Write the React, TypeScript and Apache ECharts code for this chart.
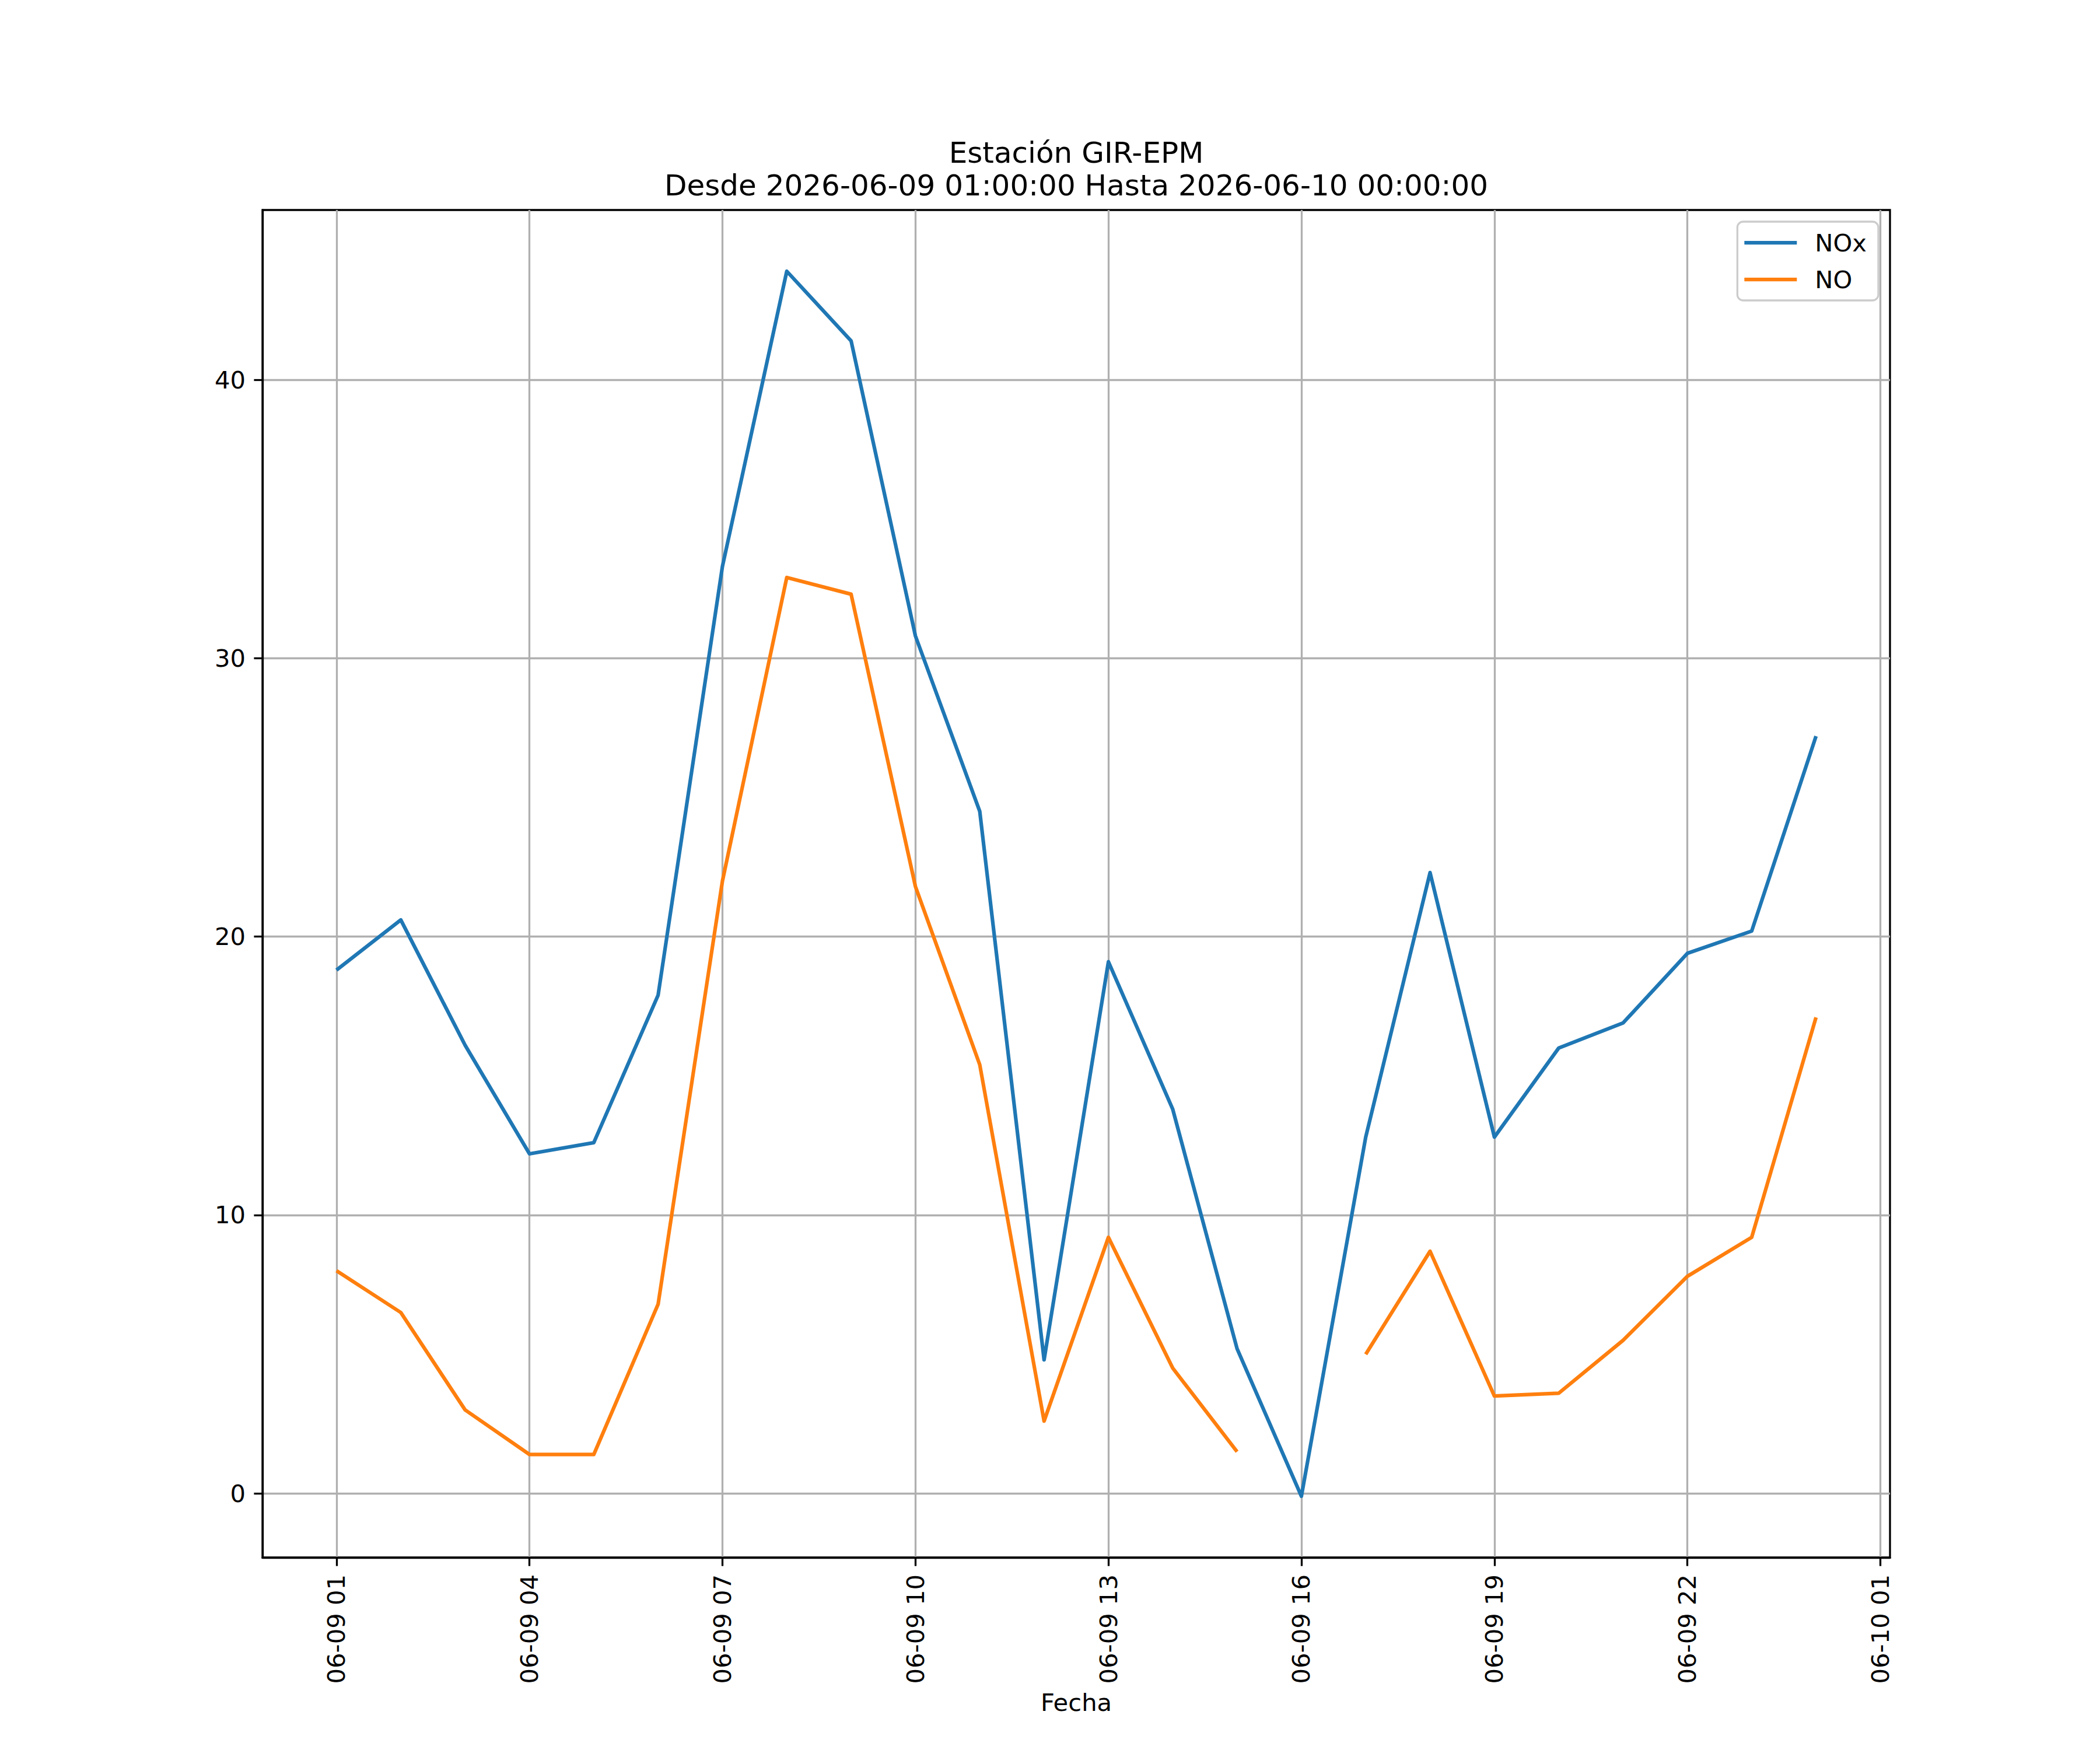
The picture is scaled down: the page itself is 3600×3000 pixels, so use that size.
import React, { useEffect, useRef } from "react";
import * as echarts from "echarts";

// Hours after 2026-06-09 00:00 (01:00 ... 24:00 = 06-10 00:00)
const hours = [1, 2, 3, 4, 5, 6, 7, 8, 9, 10, 11, 12, 13, 14, 15, 16, 17, 18, 19, 20, 21, 22, 23, 24];
const noxValues = [18.8, 20.6, 16.1, 12.2, 12.6, 17.9, 33.3, 43.9, 41.4, 30.8, 24.5, 4.8, 19.1, 13.8, 5.2, -0.1, 12.8, 22.3, 12.8, 16.0, 16.9, 19.4, 20.2, 27.2];
const noValues: (number | null)[] = [8.0, 6.5, 3.0, 1.4, 1.4, 6.8, 22.0, 32.9, 32.3, 21.8, 15.4, 2.6, 9.2, 4.5, 1.5, null, 5.0, 8.7, 3.5, 3.6, 5.5, 7.8, 9.2, 17.1];
const seriesNames = ["NOx", "NO"];
const xTickHours = [1, 4, 7, 10, 13, 16, 19, 22, 25];
const xTickLabels = ["06-09 01", "06-09 04", "06-09 07", "06-09 10", "06-09 13", "06-09 16", "06-09 19", "06-09 22", "06-10 01"];
const yTickValues = [0, 10, 20, 30, 40];
const titleLine1 = "Estación GIR-EPM";
const titleLine2 = "Desde 2026-06-09 01:00:00 Hasta 2026-06-10 00:00:00";
const xAxisTitle = "Fecha";

const FONT = "DejaVu Sans";
const W = 3600;
const H = 3000;
const GRID_L = 450;
const GRID_R = 3240;
const GRID_T = 360;
const GRID_B = 2670;

export default function App() {
  const ref = useRef<HTMLDivElement>(null);
  useEffect(() => {
    document.body.style.margin = "0";
    if (!ref.current) return;
    const chart = echarts.init(ref.current, null, { renderer: "svg" });

    const xMinD = Math.min(...hours);
    const xMaxD = Math.max(...hours);
    const xPad = (xMaxD - xMinD) * 0.05;
    const allY = [...noxValues, ...noValues.filter((v) => v !== null)] as number[];
    const yMinD = Math.min(...allY);
    const yMaxD = Math.max(...allY);
    const yPad = (yMaxD - yMinD) * 0.05;

    const mk = (vals: (number | null)[]) => hours.map((h, i) => [h, vals[i] === null ? "-" : vals[i]]);

    const axisCommon = {
      axisLine: { show: true, onZero: false, lineStyle: { color: "#000", width: 3.3 } },
      axisTick: { show: true, inside: false, length: 14.6, lineStyle: { color: "#000", width: 3.3 } },
      splitLine: { show: true, lineStyle: { color: "#b0b0b0", width: 3.3 } },
    };

    chart.setOption({
      animation: false,
      backgroundColor: "#ffffff",
      grid: {
        left: GRID_L,
        right: W - GRID_R,
        top: GRID_T,
        bottom: H - GRID_B,
        show: true,
        borderColor: "#000",
        borderWidth: 3.3,
        backgroundColor: "transparent",
      },
      xAxis: {
        type: "value",
        min: xMinD - xPad,
        max: xMaxD + xPad,
        ...axisCommon,
        axisTick: { ...axisCommon.axisTick, customValues: xTickHours },
        axisLabel: {
          customValues: xTickHours,
          rotate: 90,
          margin: 29,
          fontFamily: FONT,
          fontSize: 41.7,
          color: "#000",
          formatter: (v: number) => {
            const idx = xTickHours.indexOf(Math.round(v));
            return idx >= 0 ? xTickLabels[idx] : "";
          },
        },
      },
      yAxis: {
        type: "value",
        min: yMinD - yPad,
        max: yMaxD + yPad,
        ...axisCommon,
        axisTick: { ...axisCommon.axisTick, customValues: yTickValues },
        axisLabel: {
          customValues: yTickValues,
          margin: 29,
          fontFamily: FONT,
          fontSize: 41.7,
          color: "#000",
          formatter: (v: number) => String(Math.round(v)),
        },
      },
      legend: {
        data: seriesNames,
        orient: "vertical",
        right: W - 3220,
        top: 380,
        padding: [15, 20, 15, 12],
        itemGap: 21,
        itemWidth: 90,
        itemHeight: 6.25,
        icon: "rect",
        backgroundColor: "rgba(255,255,255,0.8)",
        borderColor: "#cccccc",
        borderWidth: 3.3,
        borderRadius: 10,
        textStyle: {
          fontFamily: FONT,
          fontSize: 41.7,
          lineHeight: 42,
          color: "#000",
          padding: [0, 0, 0, 26],
        },
      },
      graphic: [
        {
          type: "text",
          x: (GRID_L + GRID_R) / 2,
          y: 262,
          style: { text: titleLine1, fontFamily: FONT, fontSize: 50, fill: "#000", textAlign: "center", textVerticalAlign: "middle" },
        },
        {
          type: "text",
          x: (GRID_L + GRID_R) / 2,
          y: 318,
          style: { text: titleLine2, fontFamily: FONT, fontSize: 50, fill: "#000", textAlign: "center", textVerticalAlign: "middle" },
        },
        {
          type: "text",
          x: (GRID_L + GRID_R) / 2,
          y: 2918,
          style: { text: xAxisTitle, fontFamily: FONT, fontSize: 41.7, fill: "#000", textAlign: "center", textVerticalAlign: "middle" },
        },
      ],
      series: [
        {
          name: seriesNames[0],
          type: "line",
          data: mk(noxValues),
          showSymbol: false,
          symbol: "none",
          connectNulls: false,
          color: "#1f77b4",
          lineStyle: { color: "#1f77b4", width: 6.25, join: "round" },
        },
        {
          name: seriesNames[1],
          type: "line",
          data: mk(noValues),
          showSymbol: false,
          symbol: "none",
          connectNulls: false,
          color: "#ff7f0e",
          lineStyle: { color: "#ff7f0e", width: 6.25, join: "round" },
        },
      ],
    });
    return () => chart.dispose();
  }, []);
  return <div ref={ref} style={{ width: W, height: H }} />;
}
